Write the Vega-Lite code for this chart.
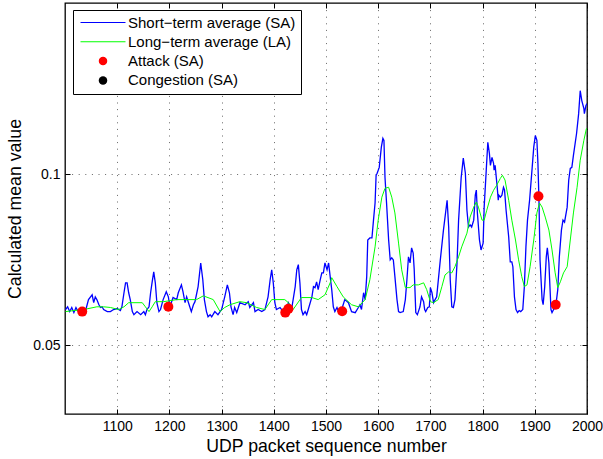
{
  "$schema": "https://vega.github.io/schema/vega-lite/v6.json",
  "width": 522,
  "height": 411,
  "autosize": {"type": "none"},
  "padding": {"left": 65, "top": 3, "right": 16, "bottom": 45},
  "background": "white",
  "config": {
    "view": {"stroke": "black", "strokeWidth": 1.3, "fill": "white"},
    "font": "Liberation Sans",
    "axis": {
      "domain": false,
      "labelFont": "Liberation Sans",
      "labelFontSize": 14,
      "labelColor": "black",
      "titleFont": "Liberation Sans",
      "titleFontSize": 17.7,
      "titleFontWeight": "normal",
      "titleColor": "black",
      "tickColor": "black",
      "tickSize": -5,
      "tickWidth": 1,
      "gridColor": "#000000",
      "gridOpacity": 0.6,
      "gridDash": [1, 5.6],
      "gridWidth": 1
    },
    "legend": {
      "labelFont": "Liberation Sans",
      "labelFontSize": 15,
      "labelColor": "black"
    }
  },
  "datasets": {
    "sa": [
      {"x":1001,"v":0.0605},{"x":1005,"v":0.0613},{"x":1009,"v":0.0599},{"x":1013,"v":0.0611},{"x":1017,"v":0.0596},{"x":1021,"v":0.0611},{"x":1024,"v":0.0602},{"x":1028,"v":0.0605},{"x":1034,"v":0.0599},{"x":1040,"v":0.0605},
      {"x":1045,"v":0.0634},{"x":1052,"v":0.0648},{"x":1055,"v":0.0625},{"x":1058,"v":0.0642},{"x":1061,"v":0.0634},{"x":1065,"v":0.0619},{"x":1068,"v":0.0611},{"x":1071,"v":0.0613},{"x":1074,"v":0.0605},{"x":1081,"v":0.0599},
      {"x":1087,"v":0.0599},{"x":1093,"v":0.0605},{"x":1100,"v":0.0608},{"x":1106,"v":0.0602},{"x":1109,"v":0.0613},{"x":1113,"v":0.0654},{"x":1116,"v":0.0683},{"x":1119,"v":0.0683},{"x":1122,"v":0.0654},{"x":1125,"v":0.0634},
      {"x":1129,"v":0.0599},{"x":1132,"v":0.0590},{"x":1138,"v":0.0599},{"x":1145,"v":0.0590},{"x":1151,"v":0.0599},{"x":1154,"v":0.0590},{"x":1157,"v":0.0605},{"x":1161,"v":0.0613},{"x":1164,"v":0.0654},{"x":1167,"v":0.0686},
      {"x":1170,"v":0.0715},{"x":1173,"v":0.0683},{"x":1176,"v":0.0625},{"x":1180,"v":0.0599},{"x":1183,"v":0.0605},{"x":1188,"v":0.0634},{"x":1194,"v":0.0657},{"x":1198,"v":0.0642},{"x":1201,"v":0.0613},{"x":1207,"v":0.0640},
      {"x":1214,"v":0.0634},{"x":1217,"v":0.0654},{"x":1223,"v":0.0677},{"x":1226,"v":0.0657},{"x":1230,"v":0.0625},{"x":1233,"v":0.0642},{"x":1239,"v":0.0613},{"x":1242,"v":0.0599},{"x":1246,"v":0.0619},{"x":1249,"v":0.0628},
      {"x":1255,"v":0.0672},{"x":1260,"v":0.0741},{"x":1264,"v":0.0692},{"x":1267,"v":0.0634},{"x":1271,"v":0.0599},{"x":1274,"v":0.0584},{"x":1278,"v":0.0590},{"x":1281,"v":0.0584},{"x":1287,"v":0.0599},{"x":1293,"v":0.0590},
      {"x":1300,"v":0.0605},{"x":1306,"v":0.0642},{"x":1311,"v":0.0677},{"x":1315,"v":0.0654},{"x":1318,"v":0.0613},{"x":1322,"v":0.0590},{"x":1325,"v":0.0611},{"x":1329,"v":0.0596},{"x":1335,"v":0.0625},{"x":1345,"v":0.0619},
      {"x":1351,"v":0.0628},{"x":1354,"v":0.0611},{"x":1361,"v":0.0625},{"x":1364,"v":0.0599},{"x":1370,"v":0.0605},{"x":1377,"v":0.0599},{"x":1383,"v":0.0605},{"x":1389,"v":0.0642},{"x":1393,"v":0.0692},{"x":1396,"v":0.0721},
      {"x":1399,"v":0.0683},{"x":1402,"v":0.0625},{"x":1405,"v":0.0605},{"x":1412,"v":0.0611},{"x":1418,"v":0.0599},{"x":1425,"v":0.0611},{"x":1428,"v":0.0625},{"x":1434,"v":0.0605},{"x":1441,"v":0.0672},{"x":1444,"v":0.0721},
      {"x":1447,"v":0.0736},{"x":1450,"v":0.0683},{"x":1453,"v":0.0605},{"x":1456,"v":0.0590},{"x":1460,"v":0.0599},{"x":1463,"v":0.0590},{"x":1466,"v":0.0605},{"x":1473,"v":0.0642},{"x":1476,"v":0.0672},{"x":1479,"v":0.0669},
      {"x":1482,"v":0.0686},{"x":1485,"v":0.0663},{"x":1489,"v":0.0692},{"x":1492,"v":0.0712},{"x":1495,"v":0.0712},{"x":1498,"v":0.0741},{"x":1502,"v":0.0721},{"x":1505,"v":0.0741},{"x":1508,"v":0.0701},{"x":1511,"v":0.0663},
      {"x":1514,"v":0.0613},{"x":1517,"v":0.0599},{"x":1521,"v":0.0611},{"x":1524,"v":0.0599},{"x":1530,"v":0.0605},{"x":1536,"v":0.0634},{"x":1543,"v":0.0625},{"x":1549,"v":0.0599},{"x":1556,"v":0.0596},{"x":1562,"v":0.0611},
      {"x":1565,"v":0.0619},{"x":1568,"v":0.0605},{"x":1572,"v":0.0654},{"x":1575,"v":0.0634},{"x":1578,"v":0.0701},{"x":1580,"v":0.0808},{"x":1584,"v":0.0814},{"x":1588,"v":0.0814},{"x":1591,"v":0.0866},{"x":1594,"v":0.0916},
      {"x":1596,"v":0.0997},{"x":1598,"v":0.1003},{"x":1602,"v":0.1020},{"x":1606,"v":0.1079},{"x":1609,"v":0.1105},{"x":1611,"v":0.1099},{"x":1613,"v":0.0991},{"x":1616,"v":0.0916},{"x":1620,"v":0.0808},{"x":1623,"v":0.0750},
      {"x":1626,"v":0.0756},{"x":1629,"v":0.0750},{"x":1632,"v":0.0701},{"x":1636,"v":0.0634},{"x":1639,"v":0.0599},{"x":1642,"v":0.0596},{"x":1648,"v":0.0599},{"x":1652,"v":0.0634},{"x":1655,"v":0.0692},{"x":1658,"v":0.0759},
      {"x":1661,"v":0.0741},{"x":1664,"v":0.0785},{"x":1667,"v":0.0770},{"x":1669,"v":0.0721},{"x":1672,"v":0.0596},{"x":1675,"v":0.0590},{"x":1677,"v":0.0599},{"x":1680,"v":0.0613},{"x":1683,"v":0.0642},{"x":1687,"v":0.0628},
      {"x":1689,"v":0.0605},{"x":1691,"v":0.0599},{"x":1695,"v":0.0611},{"x":1698,"v":0.0613},{"x":1700,"v":0.0669},{"x":1703,"v":0.0654},{"x":1706,"v":0.0625},{"x":1709,"v":0.0634},{"x":1712,"v":0.0642},{"x":1719,"v":0.0750},
      {"x":1725,"v":0.0837},{"x":1732,"v":0.0924},{"x":1735,"v":0.0846},{"x":1738,"v":0.0692},{"x":1741,"v":0.0613},{"x":1744,"v":0.0611},{"x":1747,"v":0.0634},{"x":1751,"v":0.0741},{"x":1754,"v":0.0866},{"x":1759,"v":0.0991},
      {"x":1763,"v":0.1047},{"x":1767,"v":0.1003},{"x":1770,"v":0.0895},{"x":1773,"v":0.0846},{"x":1776,"v":0.0852},{"x":1779,"v":0.0846},{"x":1783,"v":0.0866},{"x":1786,"v":0.0939},{"x":1788,"v":0.0954},{"x":1790,"v":0.0887},
      {"x":1794,"v":0.0808},{"x":1797,"v":0.0779},{"x":1801,"v":0.0799},{"x":1803,"v":0.0904},{"x":1807,"v":0.1012},{"x":1810,"v":0.1093},{"x":1813,"v":0.1061},{"x":1815,"v":0.1026},{"x":1818,"v":0.1049},{"x":1821,"v":0.1032},
      {"x":1822,"v":0.1012},{"x":1824,"v":0.1026},{"x":1828,"v":0.0962},{"x":1830,"v":0.0924},{"x":1831,"v":0.0939},{"x":1834,"v":0.0933},{"x":1837,"v":0.0939},{"x":1840,"v":0.0962},{"x":1842,"v":0.0954},{"x":1845,"v":0.0895},
      {"x":1850,"v":0.0817},{"x":1853,"v":0.0744},{"x":1856,"v":0.0744},{"x":1858,"v":0.0730},{"x":1861,"v":0.0642},{"x":1864,"v":0.0605},{"x":1867,"v":0.0596},{"x":1870,"v":0.0602},{"x":1873,"v":0.0599},{"x":1877,"v":0.0605},
      {"x":1880,"v":0.0672},{"x":1883,"v":0.0788},{"x":1886,"v":0.0866},{"x":1890,"v":0.0924},{"x":1895,"v":0.1020},{"x":1898,"v":0.1079},{"x":1901,"v":0.1113},{"x":1904,"v":0.1099},{"x":1906,"v":0.1032},{"x":1908,"v":0.0924},
      {"x":1910,"v":0.0750},{"x":1914,"v":0.0634},{"x":1916,"v":0.0619},{"x":1919,"v":0.0672},{"x":1922,"v":0.0759},{"x":1924,"v":0.0785},{"x":1927,"v":0.0741},{"x":1929,"v":0.0672},{"x":1931,"v":0.0605},{"x":1933,"v":0.0596},
      {"x":1936,"v":0.0605},{"x":1940,"v":0.0613},{"x":1944,"v":0.0663},{"x":1947,"v":0.0759},{"x":1951,"v":0.0837},{"x":1954,"v":0.0866},{"x":1957,"v":0.0860},{"x":1962,"v":0.0904},{"x":1965,"v":0.0983},{"x":1968,"v":0.1017},
      {"x":1971,"v":0.1020},{"x":1974,"v":0.1055},{"x":1980,"v":0.1119},{"x":1984,"v":0.1177},{"x":1987,"v":0.1244},{"x":1990,"v":0.1215},{"x":1994,"v":0.1192},{"x":1995,"v":0.1177},{"x":1998,"v":0.1201},{"x":2000,"v":0.1206}
    ],
    "la": [
      {"x":1001,"v":0.0599},{"x":1017,"v":0.0602},{"x":1036,"v":0.0605},{"x":1061,"v":0.0613},{"x":1074,"v":0.0613},{"x":1087,"v":0.0611},{"x":1103,"v":0.0605},{"x":1113,"v":0.0613},{"x":1122,"v":0.0625},{"x":1148,"v":0.0625},
      {"x":1154,"v":0.0613},{"x":1161,"v":0.0599},{"x":1167,"v":0.0613},{"x":1173,"v":0.0628},{"x":1189,"v":0.0628},{"x":1214,"v":0.0634},{"x":1252,"v":0.0634},{"x":1265,"v":0.0645},{"x":1284,"v":0.0634},{"x":1297,"v":0.0599},
      {"x":1306,"v":0.0611},{"x":1316,"v":0.0619},{"x":1335,"v":0.0628},{"x":1348,"v":0.0625},{"x":1367,"v":0.0611},{"x":1383,"v":0.0605},{"x":1396,"v":0.0634},{"x":1421,"v":0.0634},{"x":1428,"v":0.0625},{"x":1437,"v":0.0605},
      {"x":1453,"v":0.0640},{"x":1473,"v":0.0640},{"x":1485,"v":0.0634},{"x":1498,"v":0.0648},{"x":1508,"v":0.0683},{"x":1511,"v":0.0698},{"x":1521,"v":0.0672},{"x":1533,"v":0.0642},{"x":1549,"v":0.0619},{"x":1562,"v":0.0613},
      {"x":1575,"v":0.0634},{"x":1584,"v":0.0692},{"x":1594,"v":0.0788},{"x":1600,"v":0.0866},{"x":1607,"v":0.0933},{"x":1613,"v":0.0959},{"x":1620,"v":0.0962},{"x":1626,"v":0.0933},{"x":1632,"v":0.0887},{"x":1639,"v":0.0799},
      {"x":1645,"v":0.0721},{"x":1652,"v":0.0669},{"x":1661,"v":0.0669},{"x":1667,"v":0.0677},{"x":1677,"v":0.0677},{"x":1687,"v":0.0683},{"x":1693,"v":0.0663},{"x":1700,"v":0.0628},{"x":1706,"v":0.0625},{"x":1715,"v":0.0634},
      {"x":1722,"v":0.0672},{"x":1728,"v":0.0706},{"x":1735,"v":0.0715},{"x":1741,"v":0.0712},{"x":1747,"v":0.0730},{"x":1754,"v":0.0759},{"x":1760,"v":0.0788},{"x":1770,"v":0.0828},{"x":1776,"v":0.0875},{"x":1783,"v":0.0904},
      {"x":1788,"v":0.0919},{"x":1792,"v":0.0904},{"x":1799,"v":0.0866},{"x":1803,"v":0.0866},{"x":1808,"v":0.0895},{"x":1815,"v":0.0933},{"x":1821,"v":0.0953},{"x":1827,"v":0.0968},{"x":1834,"v":0.0988},{"x":1838,"v":0.0997},
      {"x":1843,"v":0.0983},{"x":1850,"v":0.0924},{"x":1856,"v":0.0866},{"x":1863,"v":0.0808},{"x":1869,"v":0.0750},{"x":1875,"v":0.0701},{"x":1880,"v":0.0672},{"x":1885,"v":0.0677},{"x":1891,"v":0.0730},{"x":1898,"v":0.0808},
      {"x":1904,"v":0.0887},{"x":1909,"v":0.0916},{"x":1914,"v":0.0904},{"x":1920,"v":0.0875},{"x":1927,"v":0.0837},{"x":1933,"v":0.0779},{"x":1939,"v":0.0712},{"x":1944,"v":0.0669},{"x":1949,"v":0.0686},{"x":1955,"v":0.0712},
      {"x":1962,"v":0.0730},{"x":1968,"v":0.0808},{"x":1974,"v":0.0887},{"x":1981,"v":0.0962},{"x":1987,"v":0.1041},{"x":1994,"v":0.1099},{"x":1999,"v":0.1134}
    ],
    "attack": [
      {"x":1033,"v":0.0599,"s":"Attack (SA)"},
      {"x":1198,"v":0.0613,"s":"Attack (SA)"},
      {"x":1422,"v":0.0596,"s":"Attack (SA)"},
      {"x":1428,"v":0.0607,"s":"Attack (SA)"},
      {"x":1531,"v":0.0600,"s":"Attack (SA)"},
      {"x":1907,"v":0.0936,"s":"Attack (SA)"},
      {"x":1940,"v":0.0619,"s":"Attack (SA)"}
    ]
  },
  "layer": [
    {
      "data": {"name": "sa"},
      "mark": {"type": "line", "strokeWidth": 1.3, "clip": true, "color": "#0000ff"},
      "encoding": {
        "x": {
          "field": "x", "type": "quantitative",
          "scale": {"domain": [1000, 2000], "nice": false, "zero": false},
          "axis": {
            "orient": "bottom",
            "values": [1100, 1200, 1300, 1400, 1500, 1600, 1700, 1800, 1900, 2000],
            "format": "d",
            "grid": true,
            "labelFlush": false,
            "labelOverlap": false,
            "labelPadding": 10,
            "title": "UDP packet sequence number",
            "titleY": 32,
            "titleBaseline": "middle"
          }
        },
        "y": {
          "field": "v", "type": "quantitative",
          "scale": {"domain": [0.03, 0.15], "nice": false, "zero": false},
          "axis": {
            "orient": "left",
            "values": [0.05, 0.1],
            "format": "~g",
            "grid": true,
            "labelPadding": 10,
            "title": "Calculated mean value",
            "titleX": -50,
            "titleBaseline": "middle"
          }
        }
      }
    },
    {
      "data": {"name": "la"},
      "mark": {"type": "line", "strokeWidth": 1, "clip": true, "color": "#00ff00"},
      "encoding": {
        "x": {"field": "x", "type": "quantitative", "axis": null},
        "y": {"field": "v", "type": "quantitative", "axis": null}
      }
    },
    {
      "data": {"name": "attack"},
      "mark": {"type": "point", "filled": true, "opacity": 1, "size": 100},
      "encoding": {
        "x": {
          "field": "x", "type": "quantitative",
          "axis": {"orient": "top", "values": [1100, 1200, 1300, 1400, 1500, 1600, 1700, 1800, 1900, 2000], "labels": false, "grid": false, "title": null}
        },
        "y": {
          "field": "v", "type": "quantitative",
          "axis": {"orient": "right", "values": [0.05, 0.1], "labels": false, "grid": false, "title": null}
        },
        "color": {
          "field": "s", "type": "nominal",
          "scale": {
            "domain": ["Short−term average (SA)", "Long−term average (LA)", "Attack (SA)", "Congestion (SA)"],
            "range": ["#0000ff", "#00ff00", "#ff0000", "#000000"]
          },
          "legend": {
            "orient": "none",
            "legendX": 8,
            "legendY": 7,
            "title": null,
            "padding": 5,
            "strokeColor": "black",
            "fillColor": "white",
            "rowPadding": 3.3,
            "clipHeight": 15,
            "symbolSize": 72,
            "symbolOffset": 17.5,
            "labelOffset": 17.5,
            "labelLimit": 400,
            "encode": {
              "symbols": {
                "update": {
                  "fill": {"scale": "color", "field": "value"},
                  "fillOpacity": {"value": 1}
                }
              }
            }
          }
        },
        "shape": {
          "field": "s", "type": "nominal",
          "scale": {
            "domain": ["Short−term average (SA)", "Long−term average (LA)", "Attack (SA)", "Congestion (SA)"],
            "range": ["M-5.3,-0.13H5.3V0.13H-5.3Z", "M-5.3,-0.13H5.3V0.13H-5.3Z", "circle", "circle"]
          },
          "legend": {
            "orient": "none",
            "legendX": 8,
            "legendY": 7,
            "title": null,
            "padding": 5,
            "strokeColor": "black",
            "fillColor": "white",
            "rowPadding": 3.3,
            "clipHeight": 15,
            "symbolSize": 72,
            "symbolOffset": 17.5,
            "labelOffset": 17.5,
            "labelLimit": 400,
            "encode": {
              "symbols": {
                "update": {
                  "fill": {"scale": "color", "field": "value"},
                  "fillOpacity": {"value": 1}
                }
              }
            }
          }
        }
      }
    }
  ],
  "resolve": {"axis": {"x": "independent", "y": "independent"}}
}
